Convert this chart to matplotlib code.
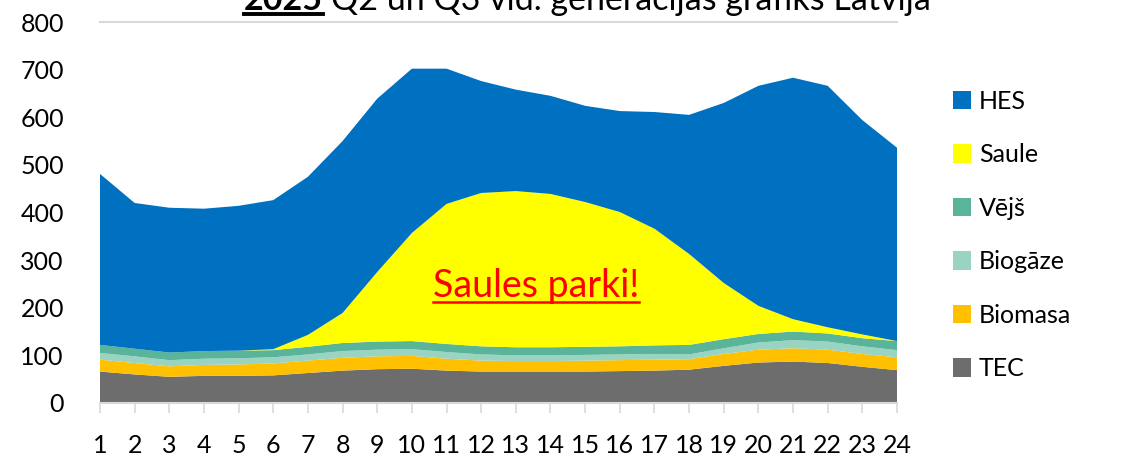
import matplotlib
matplotlib.use("Agg")
import matplotlib.pyplot as plt
from matplotlib.patches import Patch
from matplotlib.lines import Line2D
import numpy as np

plt.rcParams['font.family'] = ['Lato', 'DejaVu Sans']

hours = list(range(1, 25))
tec =     [66, 60, 55, 57, 57, 58, 63, 68, 71, 72, 68, 66, 66, 66, 66, 67, 68, 70, 78, 85, 87, 84, 76, 69]
biomasa = [25, 24, 22, 23, 24, 25, 26, 27, 27, 27, 25, 23, 22, 22, 23, 23, 23, 22, 25, 27, 28, 28, 27, 27]
biogaze = [14, 14, 13, 13, 13, 13, 13, 14, 14, 14, 14, 13, 12, 12, 12, 12, 12, 10, 12, 15, 17, 17, 16, 15]
vejs =    [17, 16, 16, 16, 16, 15, 16, 17, 17, 17, 17, 17, 17, 17, 17, 17, 18, 20, 19, 18, 18, 17, 17, 19]
saule =   [0, 0, 0, 0, 0, 2, 25, 63, 146, 227, 294, 322, 328, 322, 304, 282, 245, 191, 118, 59, 26, 13, 8, 0]
hes =     [359, 306, 304, 299, 304, 313, 332, 361, 364, 345, 284, 235, 213, 206, 202, 212, 245, 292, 378, 462, 507, 507, 450, 406]

names = ['TEC', 'Biomasa', 'Biogāze', 'Vējš', 'Saule', 'HES']
colors = ['#6D6D6D', '#FFC000', '#99D3C2', '#5AB49A', '#FFFF00', '#0070C0']
yticks = [0, 100, 200, 300, 400, 500, 600, 700, 800]

W, H = 1125, 457
fig = plt.figure(figsize=(W / 100, H / 100), dpi=100)
ax = fig.add_axes([100 / W, (H - 403) / H, (897 - 100) / W, (403 - 22) / H])

ax.stackplot(hours, tec, biomasa, biogaze, vejs, saule, hes, colors=colors, labels=names, zorder=2)
ax.axhline(800, color='#D9D9D9', lw=1.5, zorder=1, clip_on=False)

ax.set_xlim(1, 24)
ax.set_ylim(0, 800)
ax.set_xticks(hours)
ax.set_xticklabels([str(h) for h in hours])
ax.set_yticks(yticks)
ax.set_yticklabels([str(v) for v in yticks])
for s in ['top', 'right', 'left']:
    ax.spines[s].set_visible(False)
ax.spines['bottom'].set_color('#D9D9D9')
ax.spines['bottom'].set_linewidth(1.5)
ax.spines['bottom'].set_zorder(3)
ax.tick_params(axis='x', length=7.5, width=1.2, color='#D9D9D9', direction='out', pad=15, labelsize=18)
ax.tick_params(axis='y', length=0, pad=26, labelsize=18)

renderer = fig.canvas.get_renderer()

# annotation inside the solar area, red and underlined
ann = fig.text(536 / W, 1 - 297 / H, 'Saules parki!', color='red', fontsize=27, ha='center', va='baseline', zorder=5)
bb = ann.get_window_extent(renderer)
fig.add_artist(Line2D([bb.x0 / W, bb.x1 / W], [(H - 302) / H] * 2, color='red', lw=1.8))

# title (clipped at top like reference)
t1 = fig.text(244 / W, 1 - 10 / H, '2025', fontsize=24.5, fontweight='bold', ha='left', va='baseline')
b1 = t1.get_window_extent(renderer)
fig.text((b1.x1 + 8) / W, 1 - 10 / H, 'Q2 un Q3 vid. generācijas grafiks Latvija', fontsize=24.5, ha='left', va='baseline')
fig.add_artist(Line2D([b1.x0 / W, b1.x1 / W], [1 - 13.5 / H] * 2, color='black', lw=2.8))

handles = [Patch(facecolor=colors[i], edgecolor='none', label=names[i]) for i in range(5, -1, -1)]
fig.legend(handles=handles, loc='center left', bbox_to_anchor=(930 / W, 1 - 235 / H), frameon=False,
           fontsize=18, handlelength=0.75, handleheight=0.75, handletextpad=0.3, labelspacing=1.22)

fig.savefig('out.png', dpi=100)
